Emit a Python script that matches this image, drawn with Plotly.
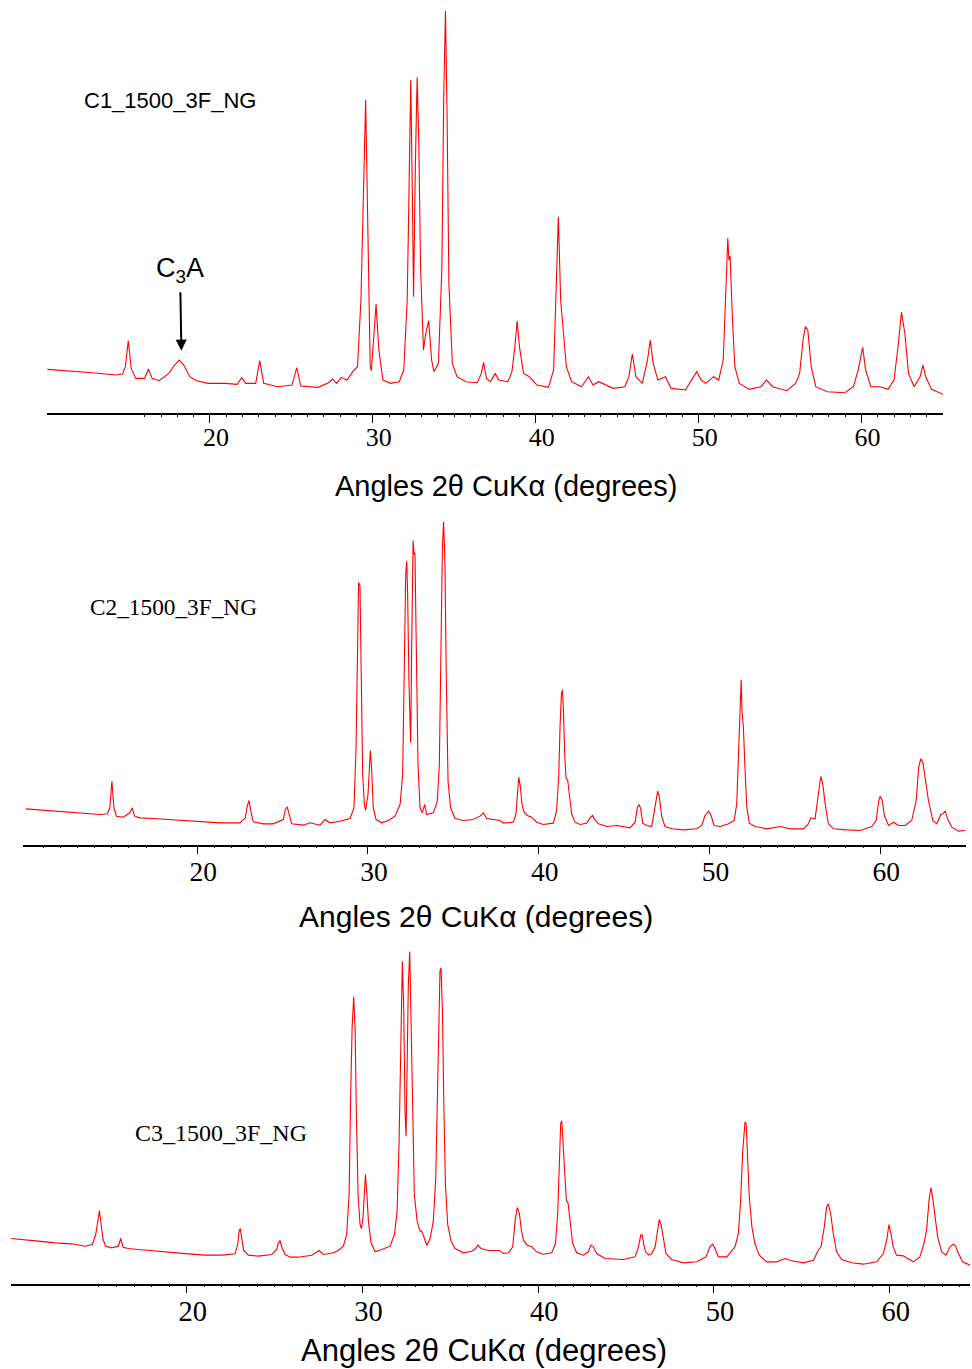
import plotly.graph_objects as go

# ---------------- data ----------------
# Sample C1_1500_3F_NG : 2-theta (deg) and intensity (a.u.)
C1_two_theta = [10.02, 11.37, 12.79, 14.21, 14.64, 14.81, 14.99, 15.17, 15.45, 15.99, 16.23, 16.45, 16.87,
                17.48, 17.83, 18.12, 18.40, 18.76, 19.18, 19.89, 20.96, 21.67, 21.95, 22.20, 22.81, 23.06,
                23.30, 24.16, 25.04, 25.33, 25.58, 26.64, 27.28, 27.53, 27.78, 28.06, 28.42, 28.77, 29.06,
                29.27, 29.41, 29.56, 29.70, 29.84, 29.91, 30.05, 30.20, 30.37, 30.62, 31.08, 31.62, 31.90,
                32.11, 32.18, 32.33, 32.43, 32.50, 32.61, 32.72, 32.82, 32.93, 33.11, 33.25, 33.43, 33.61,
                33.75, 34.03, 34.24, 34.35, 34.46, 34.56, 34.67, 34.88, 35.17, 35.70, 36.41, 36.66, 36.80,
                36.98, 37.23, 37.51, 37.73, 38.29, 38.54, 38.72, 38.86, 39.00, 39.25, 39.61, 40.07, 40.78,
                41.10, 41.24, 41.39, 41.53, 41.71, 41.88, 42.20, 42.81, 43.23, 43.52, 43.87, 44.76, 45.47,
                45.72, 45.93, 46.15, 46.54, 46.86, 47.03, 47.21, 47.50, 47.96, 48.31, 49.20, 49.56, 49.88,
                50.16, 50.44, 50.91, 51.23, 51.51, 51.69, 51.79, 51.86, 51.93, 52.07, 52.22, 52.50, 53.11,
                53.82, 54.17, 54.53, 55.42, 55.95, 56.20, 56.41, 56.55, 56.70, 56.91, 57.19, 57.90, 58.97,
                59.50, 59.79, 60.07, 60.25, 60.57, 61.10, 61.63, 61.99, 62.24, 62.45, 62.66, 62.88, 63.23,
                63.59, 63.77, 63.94, 64.30, 65.01]
C1_intensity = [130, 126, 120, 113, 116, 138, 216, 133, 103, 103, 131, 103, 96,
                118, 143, 158, 143, 108, 96, 88, 88, 85, 105, 88, 88, 156,
                88, 78, 83, 135, 80, 76, 90, 101, 88, 106, 98, 123, 138,
                338, 638, 938, 538, 138, 126, 238, 326, 188, 98, 88, 93, 128,
                338, 538, 998, 638, 348, 738, 1006, 818, 438, 188, 238, 276, 158,
                123, 148, 438, 938, 1205, 888, 388, 148, 108, 93, 90, 118, 151,
                103, 93, 118, 98, 93, 123, 198, 276, 198, 118, 108, 83, 76,
                128, 338, 588, 338, 243, 138, 93, 78, 108, 83, 93, 73, 78,
                108, 176, 108, 88, 158, 218, 148, 98, 108, 73, 68, 98, 123,
                98, 88, 108, 98, 158, 438, 523, 458, 470, 288, 138, 88, 70,
                78, 98, 78, 66, 88, 118, 218, 258, 248, 138, 78, 63, 60,
                78, 128, 196, 128, 78, 78, 70, 98, 198, 301, 238, 118, 78,
                108, 143, 108, 70, 55]

# Sample C2_1500_3F_NG
C2_two_theta = [9.96, 10.78, 11.56, 12.54, 13.52, 14.30, 14.73, 14.88, 15.00, 15.12, 15.27, 15.66, 16.05,
                16.19, 16.33, 16.64, 17.42, 18.40, 19.38, 20.35, 21.33, 22.50, 22.81, 22.93, 23.03, 23.14,
                23.28, 23.87, 24.45, 25.04, 25.16, 25.27, 25.39, 25.53, 26.21, 26.60, 27.19, 27.48, 27.77,
                28.36, 28.95, 29.18, 29.30, 29.38, 29.45, 29.53, 29.61, 29.69, 29.79, 29.86, 30.00, 30.08,
                30.14, 30.21, 30.31, 30.47, 30.80, 31.19, 31.58, 31.88, 32.03, 32.13, 32.21, 32.27, 32.32,
                32.40, 32.50, 32.56, 32.64, 32.70, 32.75, 32.83, 32.93, 33.05, 33.18, 33.32, 33.44, 33.83,
                34.06, 34.18, 34.28, 34.36, 34.43, 34.51, 34.59, 34.69, 34.84, 35.10, 35.59, 36.17, 36.56,
                36.76, 36.95, 37.73, 37.93, 38.52, 38.67, 38.75, 38.83, 38.93, 39.02, 39.14, 39.34, 39.59,
                39.88, 40.27, 40.86, 41.05, 41.17, 41.25, 41.33, 41.39, 41.45, 41.52, 41.60, 41.70, 41.80,
                41.93, 42.13, 42.42, 42.81, 43.01, 43.15, 43.30, 43.50, 43.99, 44.57, 45.35, 45.65, 45.78,
                45.88, 45.98, 46.09, 46.33, 46.62, 46.82, 46.97, 47.07, 47.21, 47.40, 47.79, 48.48, 49.26,
                49.55, 49.75, 49.95, 50.10, 50.27, 50.63, 51.12, 51.45, 51.60, 51.70, 51.80, 51.86, 51.91,
                51.99, 52.09, 52.19, 52.34, 52.68, 53.36, 54.14, 54.73, 55.51, 55.80, 55.94, 56.19, 56.39,
                56.52, 56.64, 56.78, 56.97, 57.27, 58.05, 58.83, 59.51, 59.77, 59.92, 60.00, 60.12, 60.25,
                60.49, 60.78, 61.07, 61.46, 61.85, 62.11, 62.26, 62.38, 62.50, 62.63, 62.83, 63.09, 63.32,
                63.55, 63.67, 63.81, 63.95, 64.20, 64.59, 65.00]
C2_intensity = [107, 104, 100, 97, 93, 90, 92, 110, 190, 110, 85, 82, 95,
                110, 85, 80, 78, 75, 72, 68, 65, 65, 80, 115, 132, 100,
                68, 62, 62, 75, 105, 113, 85, 62, 58, 65, 58, 75, 65,
                70, 78, 110, 290, 590, 785, 778, 540, 210, 120, 102, 150, 250,
                282, 230, 110, 75, 65, 72, 85, 120, 210, 540, 810, 850, 755,
                490, 305, 590, 912, 870, 875, 590, 240, 110, 95, 120, 90, 95,
                130, 240, 590, 890, 968, 840, 490, 190, 110, 78, 72, 75, 85,
                95, 78, 72, 64, 67, 92, 162, 202, 172, 122, 97, 87, 82,
                67, 60, 64, 102, 202, 352, 452, 464, 402, 272, 200, 192, 142,
                92, 67, 60, 64, 80, 87, 74, 62, 54, 57, 50, 67, 112,
                120, 107, 64, 57, 54, 112, 160, 142, 82, 54, 47, 44, 47,
                57, 87, 100, 87, 57, 54, 62, 72, 122, 252, 432, 494, 402,
                352, 222, 112, 64, 54, 47, 54, 47, 47, 62, 80, 77, 152,
                204, 182, 122, 62, 47, 44, 42, 54, 72, 132, 145, 132, 87,
                57, 67, 57, 57, 72, 132, 232, 257, 247, 202, 132, 72, 62,
                90, 92, 100, 77, 52, 40, 42]

# Sample C3_1500_3F_NG
C3_two_theta = [10.00, 10.80, 11.56, 12.51, 13.46, 14.22, 14.63, 14.82, 14.94, 15.03, 15.13, 15.24, 15.39,
                15.73, 16.11, 16.24, 16.38, 16.68, 17.25, 18.20, 19.15, 20.09, 21.04, 21.99, 22.75, 22.90,
                22.98, 23.05, 23.13, 23.24, 23.51, 24.08, 24.84, 25.12, 25.22, 25.31, 25.42, 25.60, 25.88,
                26.35, 27.11, 27.53, 27.78, 28.35, 28.63, 28.91, 29.10, 29.24, 29.33, 29.41, 29.50, 29.58,
                29.65, 29.75, 29.86, 29.94, 30.03, 30.11, 30.17, 30.24, 30.34, 30.49, 30.72, 31.10, 31.57,
                31.82, 31.97, 32.08, 32.16, 32.22, 32.27, 32.35, 32.42, 32.48, 32.54, 32.61, 32.69, 32.76,
                32.84, 32.95, 33.11, 33.28, 33.37, 33.52, 33.67, 33.86, 34.03, 34.17, 34.26, 34.34, 34.41,
                34.47, 34.55, 34.62, 34.72, 34.85, 35.04, 35.27, 35.74, 36.22, 36.44, 36.56, 36.75, 37.16,
                37.79, 38.02, 38.31, 38.55, 38.69, 38.81, 38.93, 39.04, 39.16, 39.38, 39.63, 39.91, 40.29,
                40.77, 40.98, 41.11, 41.20, 41.28, 41.34, 41.41, 41.51, 41.60, 41.70, 41.81, 41.96, 42.19,
                42.57, 42.85, 43.00, 43.13, 43.33, 43.80, 44.84, 45.51, 45.71, 45.83, 45.91, 46.00, 46.10,
                46.29, 46.46, 46.65, 46.79, 46.89, 47.00, 47.12, 47.27, 47.59, 48.26, 49.02, 49.55, 49.77,
                49.93, 50.06, 50.25, 50.73, 51.20, 51.39, 51.52, 51.64, 51.77, 51.83, 51.90, 52.01, 52.16,
                52.33, 52.58, 53.00, 53.57, 54.04, 54.42, 55.09, 55.66, 55.94, 56.09, 56.28, 56.41, 56.51,
                56.64, 56.79, 56.98, 57.27, 57.83, 58.50, 59.26, 59.64, 59.83, 59.96, 60.07, 60.20, 60.39,
                60.77, 61.34, 61.72, 61.95, 62.10, 62.24, 62.35, 62.44, 62.58, 62.73, 62.96, 63.20, 63.43,
                63.62, 63.74, 63.91, 64.15, 64.57]
C3_intensity = [135, 132, 127, 122, 119, 112, 117, 147, 197, 219, 177, 132, 112,
                107, 112, 135, 109, 105, 102, 97, 92, 89, 85, 85, 89, 117,
                157, 165, 137, 99, 85, 82, 87, 102, 122, 129, 107, 87, 79,
                79, 85, 99, 87, 92, 99, 112, 147, 267, 567, 767, 860, 767,
                517, 267, 177, 165, 197, 287, 327, 277, 187, 122, 95, 102, 112,
                147, 217, 417, 667, 897, 967, 817, 517, 442, 617, 897, 995, 817,
                517, 267, 187, 157, 157, 137, 114, 137, 187, 317, 567, 817, 937,
                947, 817, 567, 297, 177, 127, 105, 92, 97, 105, 115, 105, 99,
                99, 90, 92, 110, 190, 228, 210, 160, 130, 115, 110, 95, 88,
                92, 120, 210, 370, 480, 488, 420, 300, 250, 240, 180, 120, 92,
                85, 95, 115, 110, 90, 75, 72, 80, 110, 145, 147, 120, 95,
                85, 90, 110, 160, 192, 175, 130, 90, 72, 62, 65, 80, 110,
                118, 105, 80, 80, 110, 150, 250, 400, 485, 480, 390, 260, 170,
                120, 85, 65, 65, 75, 68, 62, 70, 100, 110, 170, 230, 238,
                210, 150, 95, 72, 62, 58, 65, 90, 130, 177, 150, 110, 85,
                83, 65, 80, 120, 160, 250, 288, 260, 200, 140, 95, 85, 110,
                118, 114, 90, 65, 55]

SAMPLE_NAMES = ["C1_1500_3F_NG", "C2_1500_3F_NG", "C3_1500_3F_NG"]
MAJOR_TICKS = [20, 30, 40, 50, 60]
X_TITLE = "Angles 2\u03b8 CuK\u03b1 (degrees)"
PHASE_LABEL = "C<sub>3</sub>A"
PHASE_ANGLE = 18.25

# ---------------- layout helpers ----------------
W, H = 972, 1369


def fx(p):
    return p / W


def fy(p):
    return 1 - p / H


series = [(C1_two_theta, C1_intensity), (C2_two_theta, C2_intensity), (C3_two_theta, C3_intensity)]

# per panel geometry (pixels): x-axis left/right, axis-line y, top of plot area
geo = [
    dict(xl=47, xr=943, rng=[10.0, 65.0], ay=412.7, top=0, minor_from=16, tfs=26, lshift=6, stand=-8),
    dict(xl=23.3, xr=966, rng=[9.81, 65.03], ay=844.5, top=440, minor_from=11, tfs=27.5, lshift=6, stand=-6),
    dict(xl=11, xr=970, rng=[10.0, 64.57], ay=1283.5, top=900, minor_from=15, tfs=28.5, lshift=6, stand=-7),
]

fig = go.Figure()
layout = dict(width=W, height=H, margin=dict(l=0, r=0, t=0, b=0),
              paper_bgcolor="white", plot_bgcolor="white", showlegend=False)

for i, ((xs, ys), g) in enumerate(zip(series, geo)):
    n = i + 1
    xa = "x" if n == 1 else f"x{n}"
    ya = "y" if n == 1 else f"y{n}"
    fig.add_trace(go.Scatter(x=xs, y=ys, mode="lines", xaxis=xa, yaxis=ya,
                             line=dict(color="#ff0000", width=1.1), hoverinfo="skip"))
    minor_vals = [v for v in range(g["minor_from"], 65) if v % 10 != 0]
    dom_x = [fx(g["xl"]), fx(g["xr"])]
    ycount = 3 * (g["ay"] - g["top"])
    layout["xaxis" if n == 1 else f"xaxis{n}"] = dict(
        domain=dom_x, range=g["rng"], anchor=ya, showline=True, linecolor="black", linewidth=1.6,
        showgrid=False, zeroline=False, tickmode="array", tickvals=MAJOR_TICKS,
        ticks="outside", ticklen=8, tickwidth=1.4, tickcolor="black",
        tickfont=dict(family="Liberation Serif, Times New Roman, serif", size=g["tfs"], color="black"),
        ticklabelshift=g["lshift"], ticklabelstandoff=g["stand"],
        minor=dict(tickmode="array", tickvals=minor_vals, ticks="outside", ticklen=2,
                   tickwidth=1.2, tickcolor="black", showgrid=False),
        fixedrange=True,
    )
    layout["yaxis" if n == 1 else f"yaxis{n}"] = dict(
        domain=[fy(g["ay"]), fy(g["top"])], range=[0, ycount], visible=False,
        anchor=xa, fixedrange=True,
    )
    # overlay axis giving the part of the tick marks above the axis line
    k = n + 3
    layout[f"xaxis{k}"] = dict(
        overlaying=xa, range=g["rng"], anchor=ya, showline=False, showgrid=False, zeroline=False,
        tickmode="array", tickvals=MAJOR_TICKS, ticks="inside", ticklen=3, tickwidth=1.4,
        tickcolor="black", showticklabels=False,
        minor=dict(tickmode="array", tickvals=minor_vals, ticks="inside", ticklen=4,
                   tickwidth=1.2, tickcolor="black", showgrid=False),
        fixedrange=True,
    )

annotations = []
# sample names
annotations.append(dict(x=fx(82), y=fy(100), xref="paper", yref="paper", text=SAMPLE_NAMES[0],
                        showarrow=False, xanchor="left", yanchor="middle",
                        font=dict(family="Liberation Sans, Arial, sans-serif", size=22, color="black")))
annotations.append(dict(x=fx(88), y=fy(607), xref="paper", yref="paper", text=SAMPLE_NAMES[1],
                        showarrow=False, xanchor="left", yanchor="middle",
                        font=dict(family="Liberation Serif, Times New Roman, serif", size=23.3, color="black")))
annotations.append(dict(x=fx(133), y=fy(1133), xref="paper", yref="paper", text=SAMPLE_NAMES[2],
                        showarrow=False, xanchor="left", yanchor="middle",
                        font=dict(family="Liberation Serif, Times New Roman, serif", size=24, color="black")))
# axis titles
for (cx, cy, fs) in [(506, 486, 29), (476, 916, 30), (484, 1350, 31)]:
    annotations.append(dict(x=fx(cx), y=fy(cy), xref="paper", yref="paper", text=X_TITLE,
                            showarrow=False, xanchor="center", yanchor="middle",
                            font=dict(family="Liberation Sans, Arial, sans-serif", size=fs, color="black")))
# C3A label with its arrow (tip at the C3A reflection)
annotations.append(dict(x=PHASE_ANGLE, y=186, xref="x", yref="y", text=PHASE_LABEL,
                        showarrow=True, ax=-1.4, ay=-81, arrowhead=2, arrowsize=1.1, arrowwidth=2,
                        arrowcolor="black", standoff=0, startstandoff=4,
                        font=dict(family="Liberation Sans, Arial, sans-serif", size=27, color="black")))
layout["annotations"] = annotations

fig.update_layout(**layout)
fig.write_html("out.html")
